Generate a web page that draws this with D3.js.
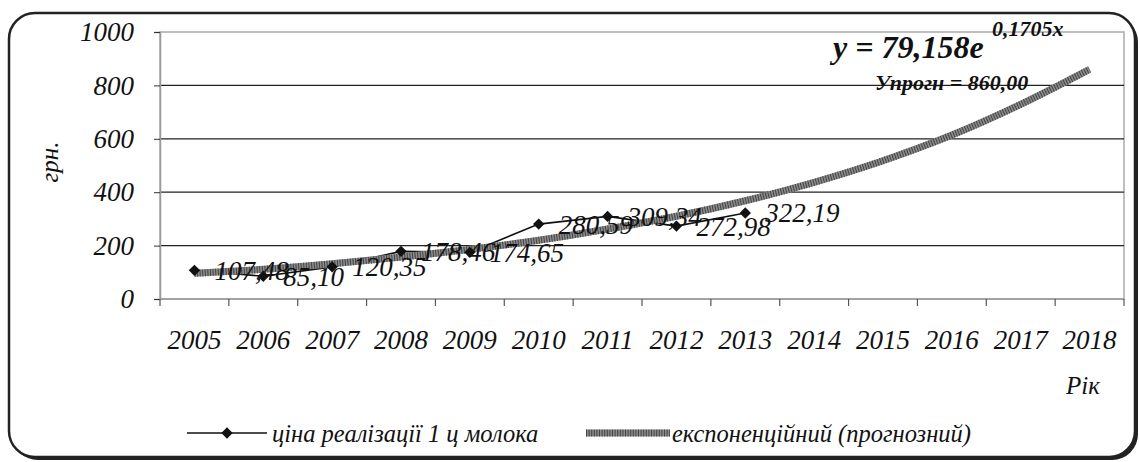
<!DOCTYPE html>
<html>
<head>
<meta charset="utf-8">
<script src="https://cdn.jsdelivr.net/npm/d3@7"></script>
<style>
  body { margin: 0; background: #fff; }
  svg text { font-family: "Liberation Serif", "Times New Roman", Tinos, "DejaVu Serif", serif; font-style: italic; fill: #111; }
</style>
</head>
<body>
<div id="chart"></div>
<script>
var years = ["2005", "2006", "2007", "2008", "2009", "2010", "2011", "2012", "2013", "2014", "2015", "2016", "2017", "2018"];
var priceYears = ["2005", "2006", "2007", "2008", "2009", "2010", "2011", "2012", "2013"];
var prices = [107.48, 85.1, 120.35, 178.46, 174.65, 280.59, 309.34, 272.98, 322.19];
var priceLabels = ["107,48", "85,10", "120,35", "178,46", "174,65", "280,59", "309,34", "272,98", "322,19"];
var trend = [96, 111, 132, 157, 186, 220, 262, 310, 368, 437, 518, 614, 729, 860];
var yTicks = [0, 200, 400, 600, 800, 1000];

var width = 1140;
var height = 462;

var plot = { left: 160, right: 1124, top: 32, bottom: 299 };

var svg = d3.select("#chart").append("svg").attr("width", width).attr("height", height);

// frame with a small shadow at the bottom right
svg.append("rect")
  .attr("x", 12).attr("y", 16).attr("width", 1126).attr("height", 444)
  .attr("rx", 26).attr("ry", 26)
  .attr("fill", "#222");
svg.append("rect")
  .attr("x", 9).attr("y", 13).attr("width", 1126).attr("height", 444)
  .attr("rx", 26).attr("ry", 26)
  .attr("fill", "#fff").attr("stroke", "#222").attr("stroke-width", 2.5);

var x = d3.scaleBand().domain(years).range([plot.left, plot.right]);
var y = d3.scaleLinear().domain([0, 1000]).range([plot.bottom, plot.top]);

// plot border (light gray) and gridlines
svg.append("rect")
  .attr("x", plot.left).attr("y", y(1000))
  .attr("width", plot.right - plot.left).attr("height", y(0) - y(1000))
  .attr("fill", "none").attr("stroke", "#aaa").attr("stroke-width", 1.5);

svg.selectAll(".grid")
  .data(yTicks.filter(function (t) { return t > 0 && t < 1000; }))
  .enter()
  .append("line")
  .attr("class", "grid")
  .attr("x1", plot.left).attr("x2", plot.right)
  .attr("y1", function (d) { return y(d); })
  .attr("y2", function (d) { return y(d); })
  .attr("stroke", "#222").attr("stroke-width", 1.2);

// y axis
var yAxis = d3.axisLeft(y).tickValues(yTicks).tickFormat(d3.format("d")).tickSize(6).tickPadding(20);
var gy = svg.append("g").attr("transform", "translate(" + plot.left + ",0)").call(yAxis);
gy.attr("font-family", null).attr("font-size", null);
gy.select(".domain").attr("stroke", "#999").attr("stroke-width", 1.5);
gy.selectAll(".tick line").attr("stroke", "#333");
gy.selectAll(".tick text").style("font-size", "27px").attr("fill", "#111");

// x axis: ticks at band edges
svg.append("line")
  .attr("x1", plot.left).attr("x2", plot.right)
  .attr("y1", y(0)).attr("y2", y(0))
  .attr("stroke", "#999").attr("stroke-width", 1.5);
svg.selectAll(".xtick")
  .data(d3.range(years.length + 1))
  .enter()
  .append("line")
  .attr("class", "xtick")
  .attr("x1", function (i) { return plot.left + i * x.step(); })
  .attr("x2", function (i) { return plot.left + i * x.step(); })
  .attr("y1", y(0)).attr("y2", y(0) + 7)
  .attr("stroke", "#555").attr("stroke-width", 1.2);
svg.selectAll(".xlabel")
  .data(years)
  .enter()
  .append("text")
  .attr("class", "xlabel")
  .attr("x", function (d) { return x(d) + x.bandwidth() / 2; })
  .attr("y", 349)
  .attr("text-anchor", "middle")
  .style("font-size", "27px")
  .text(function (d) { return d; });

// axis titles
svg.append("text")
  .attr("transform", "translate(58,162) rotate(-90)")
  .attr("text-anchor", "middle")
  .style("font-size", "25px")
  .text("грн.");
svg.append("text")
  .attr("x", 1100).attr("y", 394)
  .attr("text-anchor", "end")
  .style("font-size", "25px")
  .text("Рік");

var cx = function (d) { return x(d) + x.bandwidth() / 2; };

// price line
var priceLine = d3.line()
  .x(function (d, i) { return cx(priceYears[i]); })
  .y(function (d) { return y(d); });

svg.append("path")
  .datum(prices)
  .attr("d", priceLine)
  .attr("fill", "none").attr("stroke", "#111").attr("stroke-width", 1.6);

// trend line, hatched
var trendLine = d3.line()
  .x(function (d, i) { return cx(years[i]); })
  .y(function (d) { return y(d); })
  .curve(d3.curveMonotoneX);

svg.append("path").datum(trend).attr("d", trendLine)
  .attr("fill", "none").attr("stroke", "#8a8a8a").attr("stroke-width", 7);
svg.append("path").datum(trend).attr("d", trendLine)
  .attr("fill", "none").attr("stroke", "#444").attr("stroke-width", 7)
  .attr("stroke-dasharray", "1,1.6");

var diamond = d3.symbol().type(d3.symbolSquare).size(64);
svg.selectAll(".marker")
  .data(prices)
  .enter()
  .append("path")
  .attr("class", "marker")
  .attr("d", diamond)
  .attr("transform", function (d, i) {
    return "translate(" + cx(priceYears[i]) + "," + y(d) + ") rotate(45)";
  })
  .attr("fill", "#111");

svg.selectAll(".vlabel")
  .data(prices)
  .enter()
  .append("text")
  .attr("class", "vlabel")
  .attr("x", function (d, i) { return cx(priceYears[i]) + 20; })
  .attr("y", function (d) { return y(d); })
  .attr("dy", "0.35em")
  .style("font-size", "27px")
  .text(function (d, i) { return priceLabels[i]; });

// equation
svg.append("text")
  .attr("x", 833).attr("y", 58)
  .style("font-size", "32px").style("font-weight", "bold")
  .text("y = 79,158e");
svg.append("text")
  .attr("x", 992).attr("y", 36)
  .style("font-size", "22px").style("font-weight", "bold")
  .text("0,1705x");
svg.append("text")
  .attr("x", 875).attr("y", 90)
  .style("font-size", "22px").style("font-weight", "bold")
  .text("Упрогн = 860,00");

// legend
var ly = 433;
svg.append("line")
  .attr("x1", 187).attr("x2", 267).attr("y1", ly).attr("y2", ly)
  .attr("stroke", "#111").attr("stroke-width", 1.6);
svg.append("path")
  .attr("d", diamond)
  .attr("transform", "translate(227," + ly + ") rotate(45)")
  .attr("fill", "#111");
svg.append("text")
  .attr("x", 272).attr("y", ly).attr("dy", "0.35em")
  .style("font-size", "24.5px")
  .text("ціна реалізації 1 ц молока");

svg.append("line")
  .attr("x1", 586).attr("x2", 670).attr("y1", ly).attr("y2", ly)
  .attr("stroke", "#8a8a8a").attr("stroke-width", 7);
svg.append("line")
  .attr("x1", 586).attr("x2", 670).attr("y1", ly).attr("y2", ly)
  .attr("stroke", "#444").attr("stroke-width", 7).attr("stroke-dasharray", "1,1.6");
svg.append("text")
  .attr("x", 672).attr("y", ly).attr("dy", "0.35em")
  .style("font-size", "24.5px")
  .text("експоненційний (прогнозний)");
</script>
</body>
</html>
